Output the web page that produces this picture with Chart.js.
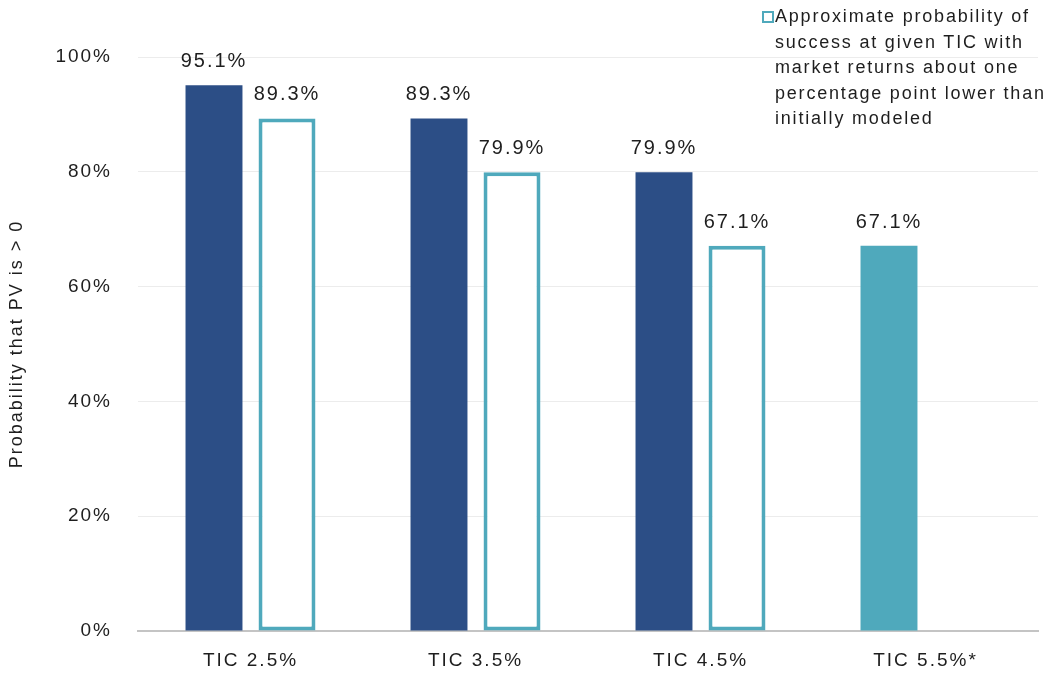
<!DOCTYPE html>
<html>
<head>
<meta charset="utf-8">
<script src="https://cdn.jsdelivr.net/npm/chart.js@4"></script>
<style>
	body { margin: 0; background: #fff; }
	#wrap { position: relative; width: 1060px; height: 675px; }
	#legend {
		position: absolute; left: 762px; top: 4px;
		font-family: "Liberation Sans", Arial, sans-serif;
		font-size: 18px; letter-spacing: 1.8px; line-height: 25.5px; color: #1e1e1e;
	}
	#legend .box {
		position: absolute; left: 0; top: 7px; width: 8px; height: 8px;
		border: 2.5px solid #4fa9bc; background: #fff;
	}
	#legend .txt { margin-left: 13px; }
</style>
</head>
<body>
<div id="wrap">
	<canvas id="prob_chart" width="1060" height="675"></canvas>
	<div id="legend"><span class="box"></span><div class="txt">Approximate probability of<br>success at given TIC with<br>market returns about one<br>percentage point lower than<br>initially modeled</div></div>
</div>
<script>
// chart values
var tic_labels = ['TIC 2.5%', 'TIC 3.5%', 'TIC 4.5%', 'TIC 5.5%*'];
var modeled_values = [95.1, 89.3, 79.9, 67.1];
var lower_return_values = [89.3, 79.9, 67.1, null];
var y_ticks = [0, 20, 40, 60, 80, 100];

var navy = '#2c4e86';
var teal = '#4fa9bc';
var font_family = '"Liberation Sans", Arial, sans-serif';

// letter spacing so the canvas text matches the wide original type
const spacingPlugin = {
	id: 'spacing',
	beforeLayout(chart) { chart.ctx.letterSpacing = '2px'; },
	beforeDraw(chart) { chart.ctx.letterSpacing = '2px'; }
};

// value labels above each bar
const valueLabels = {
	id: 'valueLabels',
	afterDatasetsDraw(chart) {
		const ctx = chart.ctx;
		ctx.save();
		ctx.font = '20px ' + font_family;
		ctx.fillStyle = '#1e1e1e';
		ctx.textAlign = 'center';
		ctx.textBaseline = 'middle';
		chart.data.datasets.forEach(function(ds, di) {
			const meta = chart.getDatasetMeta(di);
			meta.data.forEach(function(bar, i) {
				const v = ds.data[i];
				if (v === null) return;
				ctx.fillText(v.toFixed(1) + '%', bar.x, bar.y - 23.5);
			});
		});
		ctx.restore();
	}
};

const ctx = document.getElementById('prob_chart').getContext('2d');
const prob_chart = new Chart(ctx, {
	type: 'bar',
	data: {
		labels: tic_labels,
		datasets: [{
			label: 'Probability at given TIC',
			data: modeled_values,
			backgroundColor: [navy, navy, navy, teal],
			borderWidth: 0
		}, {
			label: 'Approximate probability of success at given TIC with market returns about one percentage point lower than initially modeled',
			data: lower_return_values,
			backgroundColor: '#ffffff',
			borderColor: teal,
			borderWidth: 4,
			borderSkipped: false
		}]
	},
	options: {
		responsive: false,
		animation: false,
		categoryPercentage: 0.649,
		barPercentage: 0.78,
		layout: { padding: { top: 57, right: 22, bottom: 0, left: 0 } },
		scales: {
			x: {
				afterFit: function(scale) { scale.height = 44; },
				grid: { display: false, drawTicks: false },
				border: { display: true, color: '#c4c4c4', width: 2 },
				ticks: {
					padding: 18,
					color: '#1e1e1e',
					font: { family: font_family, size: 19 }
				}
			},
			y: {
				min: 0,
				max: 100,
				afterFit: function(scale) { scale.width = 138; },
				afterBuildTicks: function(scale) {
					scale.ticks = y_ticks.map(function(v) { return { value: v }; });
				},
				grid: { color: '#ececec', lineWidth: 1, drawTicks: false },
				border: { display: false },
				ticks: {
					padding: 26,
					color: '#1e1e1e',
					font: { family: font_family, size: 19 }
				,
					callback: function(value) { return value + '%'; }
				},
				title: {
					display: true,
					text: 'Probability that PV is > 0',
					color: '#1e1e1e',
					padding: { top: 6, bottom: 0 },
					font: { family: font_family, size: 18 }
				}
			}
		},
		plugins: {
			legend: { display: false },
			tooltip: { enabled: false }
		}
	},
	plugins: [spacingPlugin, valueLabels]
});
</script>
</body>
</html>
